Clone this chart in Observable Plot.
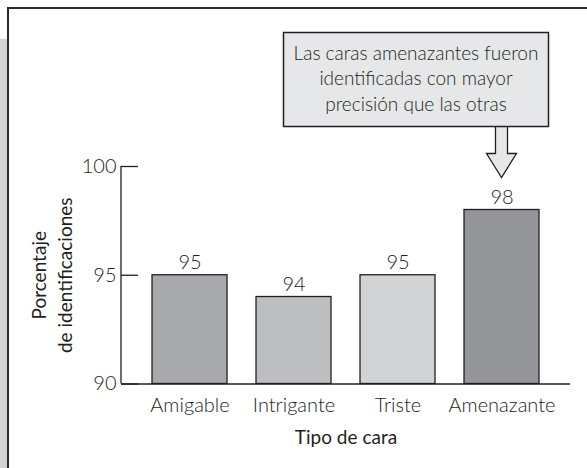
<!DOCTYPE html>
<html><head><meta charset="utf-8">
<script src="https://cdn.jsdelivr.net/npm/d3@7"></script>
<script src="https://cdn.jsdelivr.net/npm/@observablehq/plot@0.6"></script>
<style>
html,body{margin:0;padding:0;background:#fff;}
#wrap{position:relative;width:587px;height:468px;overflow:hidden;background:#fff;}
#strip{position:absolute;left:0;top:39px;width:7px;height:429px;background:#d1d3d4;}
#border{position:absolute;left:7px;top:7px;width:600px;height:500px;border-left:2px solid #2b2b2b;border-top:2px solid #2b2b2b;}
#chart{position:absolute;left:0;top:0;}
</style></head><body>
<div id="wrap"><div id="strip"></div><div id="border"></div><div id="chart"></div></div>
<script>
const categories = ["Amigable", "Intrigante", "Triste", "Amenazante"];
const values = [95, 94, 95, 98];
const barColors = ["#a7a9ac", "#bcbec0", "#d1d3d4", "#939598"];
const yDomain = [90, 100];
const yTicks = [90, 95, 100];
const yLabel = "Porcentaje\nde identificaciones";
const xLabel = "Tipo de cara";
const calloutLines = ["Las caras amenazantes fueron", "identificadas con mayor", "precisión que las otras"];
const calloutTarget = "Amenazante";

const data = categories.map((c, i) => ({cat: c, value: values[i], color: barColors[i]}));
const W = 587, H = 468, ML = 121, MR = 17, MT = 166, MB = 84.5;
const font = "Lato, 'Open Sans', sans-serif";
const ink = "#231f20";
const frameW = W - ML - MR;

const plot = Plot.plot({
  width: W, height: H, marginLeft: ML, marginRight: MR, marginTop: MT, marginBottom: MB,
  style: {fontFamily: font, fontSize: "20px", fontWeight: 300, color: ink, background: "transparent", overflow: "visible"},
  x: {domain: categories, padding: 0.28, label: null, tickSize: 0, tickPadding: 14},
  y: {domain: yDomain, label: null, ticks: yTicks, tickSize: 0, tickPadding: 5},
  marks: [
    Plot.barY(data, {x: "cat", y1: yDomain[0], y2: "value", fill: "color", stroke: ink, strokeWidth: 1.3}),
    Plot.ruleY(yTicks, {y: d => d, insetRight: frameW - 17, stroke: ink, strokeWidth: 1.3}),
    Plot.ruleY([yDomain[0]], {y: d => d, stroke: ink, strokeWidth: 1.3}),
    Plot.text(data, {x: "cat", y: "value", text: d => String(d.value), lineAnchor: "bottom", dy: -6, fontSize: 20, fontWeight: 300, fill: ink}),
    Plot.text([yLabel], {text: d => d, frameAnchor: "left", textAnchor: "middle", lineAnchor: "middle", rotate: -90, dx: -71, fontSize: 19, fontWeight: 400, lineHeight: 1.35, fill: ink}),
    Plot.text([xLabel], {text: d => d, frameAnchor: "bottom", dy: 60, fontSize: 19, fontWeight: 400, fill: ink})
  ]
});
document.getElementById("chart").appendChild(plot);

const xs = plot.scale("x"), ys = plot.scale("y");
const svg = d3.select(plot);

// y axis line along the frame's left edge, spanning the y scale's domain
svg.append("line")
  .attr("x1", ML).attr("x2", ML)
  .attr("y1", ys.apply(yDomain[0])).attr("y2", ys.apply(yDomain[1]))
  .attr("stroke", ink).attr("stroke-width", 1.3);

// Callout annotation anchored to the target bar via the plot's scales
const cx = xs.apply(calloutTarget) + xs.bandwidth / 2;
const tipY = ys.apply(values[categories.indexOf(calloutTarget)]) - 32;
const headTop = tipY - 24;
const boxBottom = headTop - 27;
const boxTop = boxBottom - 94;
const boxLeft = cx - 218, boxRight = cx + 47;
const g = svg.append("g").attr("class", "callout");
g.append("polyline")
  .attr("points", [[cx - 6, boxBottom], [cx - 6, headTop], [cx - 15, headTop], [cx, tipY], [cx + 15, headTop], [cx + 6, headTop], [cx + 6, boxBottom]].map(p => p.join(",")).join(" "))
  .attr("fill", "#e6e7e8").attr("stroke", ink).attr("stroke-width", 1.3).attr("stroke-linejoin", "miter");
g.append("rect")
  .attr("x", boxLeft).attr("y", boxTop).attr("width", boxRight - boxLeft).attr("height", boxBottom - boxTop)
  .attr("fill", "#e6e7e8").attr("stroke", ink).attr("stroke-width", 1.5);
const t = g.append("text")
  .attr("text-anchor", "middle").attr("font-family", font).attr("font-size", 19).attr("font-weight", 300).attr("fill", ink);
calloutLines.forEach((line, i) => {
  t.append("tspan").attr("x", (boxLeft + boxRight) / 2).attr("y", boxTop + 27 + i * 25.5).text(line);
});
</script>
</body></html>
